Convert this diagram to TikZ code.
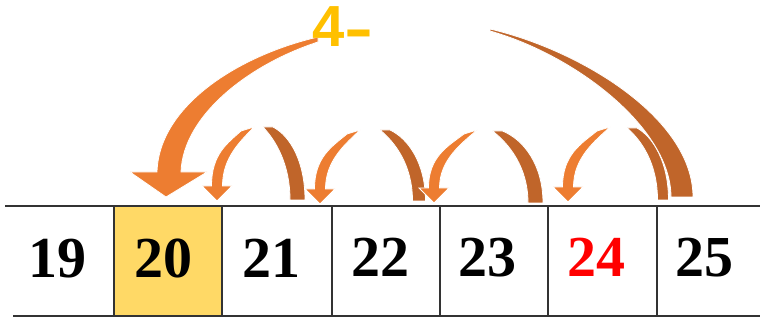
\documentclass[tikz,border=0pt]{standalone}
\usepackage{graphicx}
\usepackage{fontspec}
\setmainfont{Liberation Serif}
\newfontfamily\labelfont{Liberation Sans}
\definecolor{orA}{HTML}{ED7D31}
\definecolor{orB}{HTML}{C0652A}
\definecolor{cellY}{HTML}{FFD966}
\definecolor{goldT}{HTML}{FFC000}
\definecolor{gridC}{HTML}{333333}
\tikzset{
  frontfill/.style={fill=orA, draw=white, line width=0.8pt},
  backfill/.style={fill=orB, draw=white, line width=0.8pt},
  numtext/.style={inner sep=0pt, anchor=base, font=\fontsize{58}{60}\selectfont\bfseries},
  gridline/.style={draw=gridC, line width=1.6pt},
  hicell/.style={fill=cellY, inner sep=0pt, minimum width=108pt, minimum height=110pt}
}
% front (descending) arrow: #1 tip x, #2 tip y, #3 top x, #4 top y
\newcommand\frontarrow[4]{%
  \path[frontfill] ({#3-8},{#4+3})
    .. controls ({#3-0.4*(#3-#1)-9},{#4+0.25*(#2-15-#4)+1}) and ({#1-5.5},{#4+0.45*(#2-15-#4)}) .. ({#1-5.5},{#2-15})
    -- ({#1-15},{#2-15}) -- (#1,#2) -- ({#1+15},{#2-15}) -- ({#1+5.5},{#2-15})
    .. controls ({#1+5.5},{#4+0.5*(#2-15-#4)}) and ({#3-0.4*(#3-#1)+5},{#4+0.25*(#2-15-#4)-2}) .. ({#3+5},{#4-1})
    -- cycle;}
% back (rising) arc: #1 top x, #2 top y, #3 bottom x, #4 bottom y, #5 top half width, #6 bottom half width
\newcommand\backarc[6]{%
  \path[backfill] ({#1-#5},{#2})
    .. controls ({#1+0.5*(#3-#1)-#6},{#2+0.15*(#4-#2)+2}) and ({#3-#6},{#2+0.5*(#4-#2)}) .. ({#3-#6},{#4})
    -- ({#3+#6},{#4})
    .. controls ({#3+#6},{#2+0.5*(#4-#2)-2}) and ({#1+0.5*(#3-#1)+#6},{#2+0.15*(#4-#2)-2}) .. ({#1+#5},{#2})
    -- cycle;}
\begin{document}
\begin{tikzpicture}[x=1pt,y=-1pt]
\useasboundingbox (0,0) rectangle (760,323);
% highlighted cell
\node[hicell] (cell20) at (168,261) {};
% grid
\draw[gridline] (5,206) -- (760,206);
\draw[gridline] (13,316) -- (760,316);
\foreach \xx in {114,222,332,440,548,657} \draw[gridline] (\xx,206) -- (\xx,316);
% numbers
\node[numtext] (n19) at (57.5,277) {19};
\node[numtext] (n20) at (163,277) {20};
\node[numtext] (n21) at (271,277) {21};
\node[numtext] (n22) at (380,276) {22};
\node[numtext] (n23) at (487,276) {23};
\node[numtext, text=red] (n24) at (596.5,276) {24};
\node[numtext] (n25) at (704,276) {25};
% back arcs
\backarc{268}{127}{297.5}{200}{5}{7.5}
\backarc{385}{130}{419}{201}{5}{6.5}
\backarc{497.5}{131}{535.5}{203}{5}{7.5}
\backarc{632}{128}{663}{200}{5}{5.5}
% big back arc
\path[backfill] (490,29) .. controls (580,50) and (693,118) .. (693,197)
  -- (671,197) .. controls (671,128) and (575,55) .. (490,31) -- cycle;
% front arrows
\frontarrow{217}{201}{249}{128}
\frontarrow{320}{204}{355}{131}
\frontarrow{434}{203}{472}{131}
\frontarrow{568}{202}{605}{128}
% big front arrow
\path[frontfill] (318,37) .. controls (240,55) and (159,105) .. (157,172)
  -- (130,172) -- (166,197) -- (207,172) -- (181,172)
  .. controls (183,115) and (250,64) .. (318,42) -- cycle;
% label
\node[inner sep=0pt, anchor=base west, text=goldT, font=\labelfont\fontsize{58}{60}\selectfont\bfseries] (lab) at (312,47) {4\raisebox{-2pt}{\scalebox{1.5}[1]{-}}};
\end{tikzpicture}
\end{document}
